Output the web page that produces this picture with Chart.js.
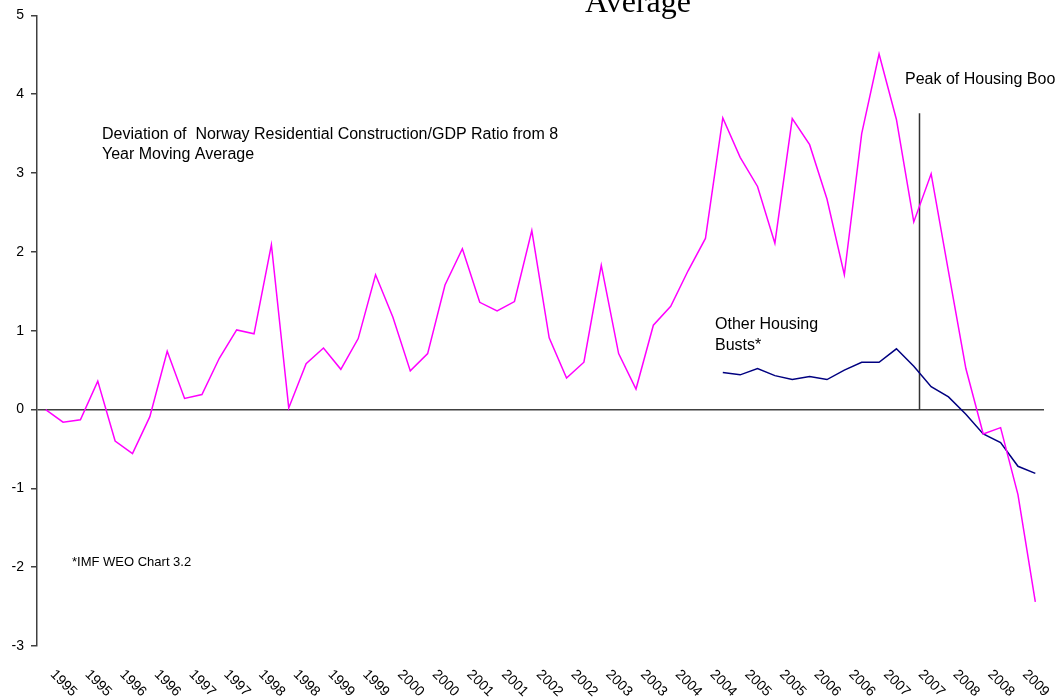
<!DOCTYPE html>
<html>
<head>
<meta charset="utf-8">
<script src="https://cdn.jsdelivr.net/npm/chart.js@4"></script>
<style>
  html, body { margin: 0; padding: 0; background: #fff; }
  #wrap { width: 1056px; height: 699px; position: relative; }
</style>
</head>
<body>
<div id="wrap"><canvas id="housingChart"></canvas></div>
<script>
// quarterly categories, 1995Q1 - 2009Q2
const categories = [
  '1995Q1','1995Q2','1995Q3','1995Q4','1996Q1','1996Q2','1996Q3','1996Q4',
  '1997Q1','1997Q2','1997Q3','1997Q4','1998Q1','1998Q2','1998Q3','1998Q4',
  '1999Q1','1999Q2','1999Q3','1999Q4','2000Q1','2000Q2','2000Q3','2000Q4',
  '2001Q1','2001Q2','2001Q3','2001Q4','2002Q1','2002Q2','2002Q3','2002Q4',
  '2003Q1','2003Q2','2003Q3','2003Q4','2004Q1','2004Q2','2004Q3','2004Q4',
  '2005Q1','2005Q2','2005Q3','2005Q4','2006Q1','2006Q2','2006Q3','2006Q4',
  '2007Q1','2007Q2','2007Q3','2007Q4','2008Q1','2008Q2','2008Q3','2008Q4',
  '2009Q1','2009Q2'
];

// every other category gets a label
const tickLabels = [
  '1995','1995','1996','1996','1997','1997','1998','1998','1999','1999',
  '2000','2000','2001','2001','2002','2002','2003','2003','2004','2004',
  '2005','2005','2006','2006','2007','2007','2008','2008','2009'
];

const norwayDeviation = [
  0.00, -0.16, -0.13, 0.36, -0.40, -0.56, -0.09, 0.74, 0.14, 0.19,
  0.65, 1.01, 0.96, 2.09, 0.02, 0.58, 0.78, 0.51, 0.90, 1.71,
  1.17, 0.49, 0.71, 1.58, 2.04, 1.36, 1.25, 1.37, 2.27, 0.91,
  0.40, 0.60, 1.83, 0.71, 0.26, 1.07, 1.31, 1.76, 2.17, 3.70,
  3.20, 2.83, 2.11, 3.69, 3.36, 2.67, 1.71, 3.50, 4.51, 3.68,
  2.38, 2.99, 1.75, 0.52, -0.31, -0.23, -1.08, -2.44
];

const otherBusts = [
  null, null, null, null, null, null, null, null, null, null,
  null, null, null, null, null, null, null, null, null, null,
  null, null, null, null, null, null, null, null, null, null,
  null, null, null, null, null, null, null, null, null, 0.47,
  0.44, 0.52, 0.43, 0.38, 0.42, 0.38, 0.50, 0.60, 0.60, 0.77,
  0.55, 0.29, 0.16, -0.06, -0.31, -0.42, -0.72, -0.81
];

// peak of housing boom marker (category position, top value)
const peakPos = 50.3;
const peakTop = 3.76;

const FONT = '"Liberation Sans", Arial, sans-serif';

const annotations = {
  id: 'annotations',
  beforeDatasetsDraw(chart) {
    const { ctx, scales: { x, y } } = chart;
    const px = Math.round(x.getPixelForValue(peakPos)) + 0.5;
    ctx.save();
    ctx.strokeStyle = '#333';
    ctx.lineWidth = 1.5;
    ctx.beginPath();
    ctx.moveTo(px, y.getPixelForValue(0));
    ctx.lineTo(px, y.getPixelForValue(peakTop));
    ctx.stroke();
    ctx.restore();
  },
  afterDraw(chart) {
    const { ctx, scales: { x }, chartArea } = chart;
    ctx.save();
    ctx.fillStyle = '#000';
    ctx.font = '14px ' + FONT;
    ctx.textAlign = 'left';
    ctx.textBaseline = 'alphabetic';

    // rotated category labels
    tickLabels.forEach((t, k) => {
      const px = x.getPixelForValue(k * 2);
      ctx.save();
      ctx.translate(px + 4, chartArea.bottom + 29);
      ctx.rotate(Math.PI / 4);
      ctx.fillText(t, 0, 0);
      ctx.restore();
    });

    ctx.textBaseline = 'middle';
    ctx.font = '16px ' + FONT;
    ctx.fillText('Deviation of  Norway Residential Construction/GDP Ratio from 8', 102, 135);
    ctx.fillText('Year Moving Average', 102, 155);
    ctx.fillText('Peak of Housing Boom', 905, 80);
    ctx.fillText('Other Housing', 715, 325);
    ctx.fillText('Busts*', 715, 346);
    ctx.font = '13px ' + FONT;
    ctx.fillText('*IMF WEO Chart 3.2', 72, 562);

    // title (first line falls outside the picture)
    ctx.font = '32px "Liberation Serif", "Times New Roman", serif';
    ctx.textAlign = 'center';
    ctx.textBaseline = 'alphabetic';
    ctx.fillText('Average', 638, 12);
    ctx.restore();
  }
};

new Chart(document.getElementById('housingChart'), {
  type: 'line',
  data: {
    labels: categories,
    datasets: [
      {
        label: 'Norway',
        data: norwayDeviation,
        borderColor: '#FF00FF',
        borderWidth: 1.5,
        pointRadius: 0,
        tension: 0,
        fill: false
      },
      {
        label: 'Other Housing Busts',
        data: otherBusts,
        borderColor: '#000080',
        borderWidth: 1.5,
        pointRadius: 0,
        tension: 0,
        fill: false,
        spanGaps: false
      }
    ]
  },
  options: {
    responsive: true,
    maintainAspectRatio: false,
    animation: false,
    layout: { padding: { left: 11, right: 12, top: 15, bottom: 0 } },
    plugins: {
      legend: { display: false },
      tooltip: { enabled: false },
      title: { display: false }
    },
    scales: {
      x: {
        type: 'category',
        offset: true,
        grid: { display: false },
        border: { display: false },
        ticks: { display: false },
        afterFit(scale) { scale.height = 53; }
      },
      y: {
        min: -3,
        max: 5,
        ticks: {
          stepSize: 1,
          padding: 7,
          color: '#000',
          font: { size: 14, family: FONT }
        },
        grid: {
          drawOnChartArea: true,
          color: c => (c.tick && c.tick.value === 0 ? '#404040' : 'rgba(0,0,0,0)'),
          lineWidth: 1.5,
          tickColor: '#404040',
          tickLength: 6,
          tickWidth: 1.5
        },
        border: { display: true, color: '#404040', width: 1.5 },
        afterFit(scale) { scale.width = 26; }
      }
    }
  },
  plugins: [annotations]
});
</script>
</body>
</html>
